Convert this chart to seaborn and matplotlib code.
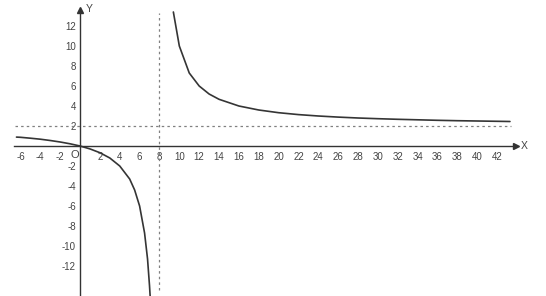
import matplotlib
matplotlib.use("Agg")
import matplotlib.pyplot as plt
import seaborn as sns
import pandas as pd

# Values (three branches of the curve)
left_x = [-6.4, -6, -5, -4, -3, -2, -1, 0]
left_y = [0.89, 0.87, 0.78, 0.68, 0.55, 0.40, 0.22, 0.0]

low_x = [0, 1, 2, 3, 4, 5, 5.5, 6, 6.5, 6.8, 7.0, 7.06]
low_y = [0.0, -0.29, -0.67, -1.2, -2.0, -3.3, -4.4, -6.0, -8.7, -11.3, -14.0, -15.0]

up_x = [9.4, 10, 11, 12, 13, 14, 16, 18, 20, 22, 24, 26, 28, 30, 32, 34, 36, 38, 40, 42, 43.3]
up_y = [13.4, 10.0, 7.3, 6.0, 5.2, 4.67, 4.0, 3.6, 3.33, 3.14, 3.0, 2.89, 2.8, 2.73, 2.67,
        2.62, 2.57, 2.53, 2.5, 2.47, 2.45]

x_ticks = [-6, -4, -2, 2, 4, 6, 8, 10, 12, 14, 16, 18, 20, 22, 24, 26, 28, 30, 32, 34, 36, 38, 40, 42]
y_ticks = [-12, -10, -8, -6, -4, -2, 2, 4, 6, 8, 10, 12]
asym_x = 8
asym_y = 2

sns.set_style("white")
plt.rcParams['font.family'] = ['Liberation Sans', 'DejaVu Sans']

fig = plt.figure(figsize=(5.46, 2.96), dpi=100)
ax = fig.add_axes([0, 0, 1, 1])
ax.set_xlim(-8.06, 46.93)
ax.set_ylim(-15.0, 14.6)

line_c = "#353535"
for bx, by in [(left_x, left_y), (low_x, low_y), (up_x, up_y)]:
    df = pd.DataFrame({"x": bx, "y": by})
    sns.lineplot(data=df, x="x", y="y", ax=ax, color=line_c, linewidth=1.2,
                 sort=False, estimator=None)

# asymptotes
ax.plot([-6.5, 43.4], [asym_y, asym_y], color="#808080", linestyle=(0, (2, 2.5)), linewidth=0.9)
ax.plot([asym_x, asym_x], [-14.4, 13.3], color="#808080", linestyle=(0, (2, 2.5)), linewidth=0.9)

# axes through origin
for s in ["top", "right"]:
    ax.spines[s].set_visible(False)
ax.spines["left"].set_position(("data", 0))
ax.spines["bottom"].set_position(("data", 0))
ax.spines["left"].set_bounds(-15.0, 13.4)
ax.spines["bottom"].set_bounds(-6.65, 43.7)
for s in ["left", "bottom"]:
    ax.spines[s].set_color("#333333")
    ax.spines[s].set_linewidth(1.0)

ax.plot([0], [13.6], marker="^", color="#333333", markersize=5, clip_on=False)
ax.plot([43.9], [0], marker=">", color="#333333", markersize=5, clip_on=False)

ax.set_xticks(x_ticks)
ax.set_yticks(y_ticks)
ax.set_xticklabels([str(t) for t in x_ticks])
ax.set_yticklabels([str(t) for t in y_ticks])
ax.tick_params(axis="both", direction="inout", length=5, width=0.8, colors="#333333",
               labelsize=7, labelcolor="#444444")
ax.tick_params(axis="y", pad=0.5)
ax.tick_params(axis="x", pad=2)
ax.set_xlabel("")
ax.set_ylabel("")

ax.text(44.4, 0, "X", fontsize=7.5, color="#444444", va="center", ha="left")
ax.text(0.6, 13.7, "Y", fontsize=7.5, color="#444444", va="center", ha="left")
ax.text(-0.55, -0.85, "O", fontsize=8, color="#444444", va="center", ha="center")

fig.savefig("out.png", dpi=100)
